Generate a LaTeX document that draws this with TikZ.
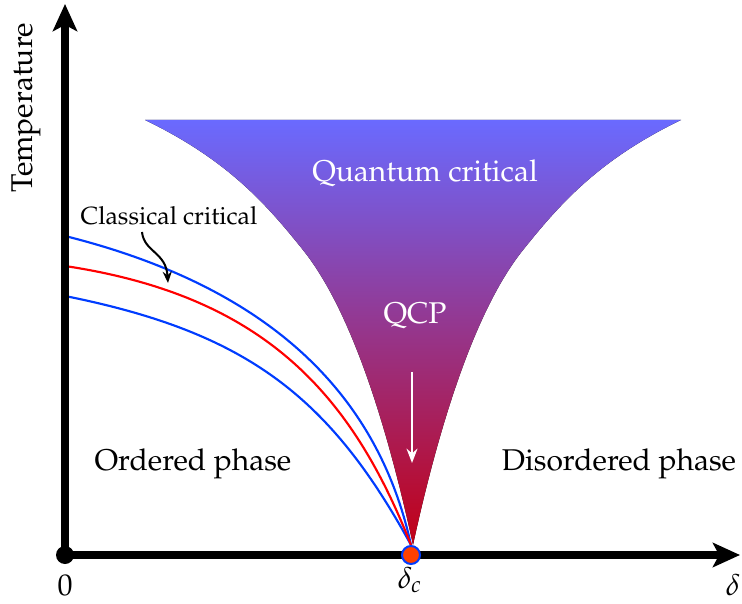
\documentclass[tikz,border=0pt]{standalone}
\usepackage[T1]{fontenc}
\usepackage{mathpazo}
\usepackage{tikz}
\usetikzlibrary{arrows.meta, positioning, calc}
\definecolor{fanblue}{RGB}{106,106,255}
\definecolor{fanred}{RGB}{194,0,22}
\definecolor{tcblue}{RGB}{0,60,255}
\definecolor{tcred}{RGB}{255,0,0}
\definecolor{qcporange}{RGB}{255,64,0}

\begin{document}
\begin{tikzpicture}[
    x=0.35pt, y=-0.35pt,
    axis/.style={line width=2.8pt, -{Stealth[length=9.5pt, width=8.5pt, inset=2.2pt]}},
    phase/.style={font=\fontsize{10.5}{12}\selectfont, inner sep=0pt},
    fanlabel/.style={phase, text=white},
    smalllabel/.style={font=\fontsize{8.7}{10}\selectfont, inner sep=0pt},
    tcline/.style={line width=0.75pt},
    pointer/.style={line width=0.7pt, -{Stealth[length=4pt, width=3.2pt]}},
    dot/.style={circle, inner sep=0pt, minimum size=6.3pt}
]
\useasboundingbox (0,0) rectangle (742,604);

% Quantum critical fan
\fill[top color=fanblue, bottom color=fanred] (145,120) -- (681,120)
    .. controls (598,160) and (559,205) .. (523,250)
    .. controls (475,310) and (439,425) .. (413,545)
    .. controls (387,425) and (351,310) .. (303,250)
    .. controls (267,205) and (228,160) .. (145,120) -- cycle;

% Koordinaten
\coordinate (O) at (65,555);
\coordinate (Tend) at (65,4);
\coordinate (dend) at (740,555);
\coordinate (qc) at (411,545);
\coordinate (qcpt) at (411,555);

% Klassische Linien
\draw[tcline, tcblue] (65,236) .. controls (265,286) and (377,390) .. (qc);
\draw[tcline, tcblue] (65,296) .. controls (245,332) and (329,395) .. (qc);
\draw[tcline, tcred] (65,266) .. controls (265,296) and (352,395) .. (qc);

% Achsen
\draw[axis] (O) -- (Tend);
\draw[axis] (O) -- (dend);
\node[dot, fill=black] (origin) at (O) {};
\node[dot, fill=qcporange, draw=tcblue, line width=0.7pt] (qcpdot) at (qcpt) {};

% Beschriftungen
\node[phase, rotate=90] (temp) at (26,108) {Temperature};
\node[phase] (zero) at (65,585) {$0$};
\node[phase] (dc) at (410,580) {$\delta_c$};
\node[phase] (d) at (733,585) {$\delta$};
\node[phase] (ordered) at (193,464) {Ordered phase};
\node[phase] (disordered) at (619,464) {Disordered phase};
\node[fanlabel] (qcrit) at (425,173) {Quantum critical};
\node[fanlabel] (qcp) at (415,316) {QCP};
\node[smalllabel] (cc) at (169,216) {Classical critical};

% Pfeile
\coordinate (ccfrom) at (142,232);
\coordinate (ccto) at (168,283);
\draw[pointer, black] (ccfrom) .. controls (144,252) and (166,252) .. (ccto);
\coordinate (qcpfrom) at (412,372);
\coordinate (qcpto) at (412,463);
\draw[pointer, white, line width=0.8pt, -{Stealth[length=5pt, width=3.8pt]}] (qcpfrom) -- (qcpto);

\end{tikzpicture}
\end{document}
